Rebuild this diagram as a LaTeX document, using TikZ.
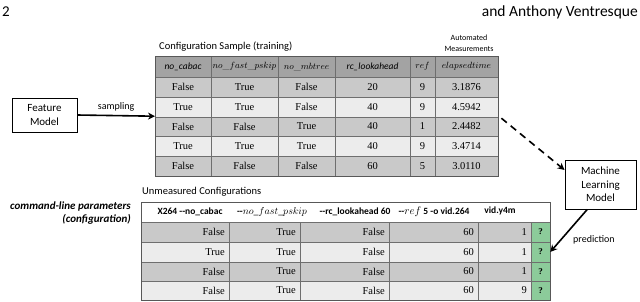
\documentclass[tikz,border=0pt]{standalone}
\usepackage{fontspec}
\newfontfamily\calibfont{Carlito}
\newfontfamily\valfont{Liberation Serif}
\usetikzlibrary{arrows.meta}
\definecolor{hdrgray}{HTML}{A3A3A3}
\definecolor{rowA}{HTML}{C9C9C9}
\definecolor{rowB}{HTML}{ECECEC}
\definecolor{qgreen}{HTML}{8CCB9A}
\definecolor{gridc}{HTML}{6E6E6E}
\tikzset{
  box/.style={draw=black, line width=0.9pt, fill=white, align=center, font=\calibfont\fontsize{11}{13.5}\selectfont, inner sep=0pt},
  lbl/.style={font=\calibfont\fontsize{10.5}{12}\selectfont, inner sep=0pt},
  albl/.style={font=\calibfont\fontsize{10}{12}\selectfont, inner sep=0pt},
  hd/.style={font=\calibfont\itshape\fontsize{9.5}{11}\selectfont, inner sep=0pt},
  hdm/.style={font=\fontsize{9}{11}\selectfont, inner sep=0pt},
  val/.style={font=\valfont\fontsize{10.5}{12}\selectfont, inner sep=0pt},
  bhd/.style={font=\calibfont\bfseries\fontsize{9.5}{11}\selectfont, inner sep=0pt},
  gridline/.style={draw=gridc, line width=0.5pt},
  bigarrow/.style={line width=1.6pt, -{Stealth[length=7pt,width=7pt]}},
}
\begin{document}
\begin{tikzpicture}[x=1pt,y=-1pt]
\useasboundingbox (0,0) rectangle (640,301);
% page header
\node[anchor=west, inner sep=0, font=\calibfont\fontsize{15}{16}\selectfont] (pnum) at (2,12) {2};
\node[anchor=east, inner sep=0, font=\calibfont\fontsize{15.5}{16}\selectfont] (auth) at (638,12) {and Anthony Ventresque};

% ---------- top table ----------
\node[lbl, anchor=west] (ttitle) at (159,47) {Configuration Sample (training)};
\node[font=\calibfont\fontsize{8}{11}\selectfont, align=center, inner sep=0] (autom) at (469,43) {Automated\\Measurements};
\fill[hdrgray] (155,56) rectangle (498,77);
\fill[rowA] (155,77) rectangle (498,97);
\fill[rowB] (155,97) rectangle (498,117);
\fill[rowA] (155,117) rectangle (498,136);
\fill[rowB] (155,136) rectangle (498,156);
\fill[rowA] (155,156) rectangle (498,176);
\foreach \yy in {77,97,117,136,156} \draw[gridline] (155,\yy) -- (498,\yy);
\foreach \xx in {211,278,335,410,435} \draw[gridline] (\xx,56) -- (\xx,176);
\draw[draw=gridc!80!black, line width=0.7pt] (155,56) rectangle (498,176);
\node[inner sep=0, minimum width=343pt, minimum height=120pt, anchor=north west] (toptab) at (155,56) {};
% header
\node[hd] (h1) at (183,66.5) {no\_cabac};
\node[hdm] (h2) at (244.5,66.5) {$no\_fast\_pskip$};
\node[hdm] (h3) at (306.5,66.5) {$no\_mbtree$};
\node[hd] (h4) at (372.5,66.5) {rc\_lookahead};
\node[hdm] (h5) at (422.5,66.5) {$ref$};
\node[hdm] (h6) at (466.5,66.5) {$elapsedtime$};
% rows
\foreach \r/\yc/\a/\b/\c/\d/\e/\f in {
  1/87/False/True/False/20/9/3.1876,
  2/107/True/True/False/40/9/4.5942,
  3/126.5/False/False/True/40/1/2.4482,
  4/146/True/True/True/40/9/3.4714,
  5/166/False/False/False/60/5/3.0110}{
  \node[val] (t\r a) at (183,\yc) {\a};
  \node[val] (t\r b) at (244.5,\yc) {\b};
  \node[val] (t\r c) at (306.5,\yc) {\c};
  \node[val] (t\r d) at (372.5,\yc) {\d};
  \node[val] (t\r e) at (422.5,\yc) {\e};
  \node[val] (t\r f) at (466.5,\yc) {\f};
}

% ---------- feature model ----------
\node[box, minimum width=65pt, minimum height=34pt] (fm) at (44.5,115) {Feature\\Model};
\draw[bigarrow] (fm.east) -- node[albl, above=4pt] (samp) {sampling} (toptab.west);

% ---------- ML model ----------
\node[box, minimum width=71pt, minimum height=49pt] (ml) at (600.5,184.5) {Machine\\Learning\\Model};
\draw[bigarrow, dash pattern=on 7pt off 5pt] ([xshift=3pt,yshift=-2pt]toptab.east) -- (ml.158);

% ---------- bottom table ----------
\node[lbl, anchor=west] (utitle) at (142,192) {Unmeasured Configurations};
\node[font=\calibfont\bfseries\itshape\fontsize{11}{13}\selectfont, align=right, anchor=east, inner sep=0] (cmd) at (131,213.5) {command-line parameters\\(configuration)};
\fill[white] (141,202) rectangle (550,222);
\fill[rowA] (141,222) rectangle (531,242);
\fill[rowB] (141,242) rectangle (531,262);
\fill[rowA] (141,262) rectangle (531,281);
\fill[rowB] (141,281) rectangle (531,300);
\foreach \yy in {222,242,262,281} \draw[gridline] (141,\yy) -- (550,\yy);
\foreach \xx in {229,300,389,478} \draw[gridline] (\xx,222) -- (\xx,300);
% header labels
\node[bhd] (b1) at (190,212) {X264 -{}-no\_cabac};
\node[bhd] (b2) at (272,212) {-{}-\mdseries\fontsize{10}{11}\selectfont$no\_fast\_pskip$};
\node[bhd] (b3) at (355,212) {-{}-rc\_lookahead 60};
\node[bhd] (b4) at (434,212) {-{}-{\mdseries\fontsize{10.5}{11}\selectfont$ref$} 5 -o vid.264};
\node[bhd] (b5) at (500,211) {vid.y4m};
% rows
\foreach \r/\ya/\yb/\a/\b/\c/\d/\e in {
  1/222/242/False/True/False/60/1,
  2/242/262/True/True/False/60/1,
  3/262/281/False/True/False/60/1,
  4/281/300/False/True/False/60/9}{
  \node[val, anchor=east] (u\r a) at (225,{(\ya+\yb)/2}) {\a};
  \node[val, anchor=east] (u\r b) at (296,{(\ya+\yb)/2}) {\b};
  \node[val, anchor=east] (u\r c) at (385,{(\ya+\yb)/2}) {\c};
  \node[val, anchor=east] (u\r d) at (474,{(\ya+\yb)/2}) {\d};
  \node[val, anchor=east] (u\r e) at (527,{(\ya+\yb)/2}) {\e};
  \node[draw=gridc, line width=0.5pt, fill=qgreen, inner sep=0, minimum width=19pt, minimum height={\yb-\ya}, font=\valfont\bfseries\fontsize{9}{10}\selectfont] (q\r) at (540.5,{(\ya+\yb)/2}) {?};
}
\draw[draw=gridc!80!black, line width=0.7pt] (141,202) rectangle (550,300);

% prediction arrow
\draw[bigarrow] (ml.242) -- (q2.east);
\node[albl, anchor=west] (pred) at (573,240) {prediction};
\end{tikzpicture}
\end{document}
